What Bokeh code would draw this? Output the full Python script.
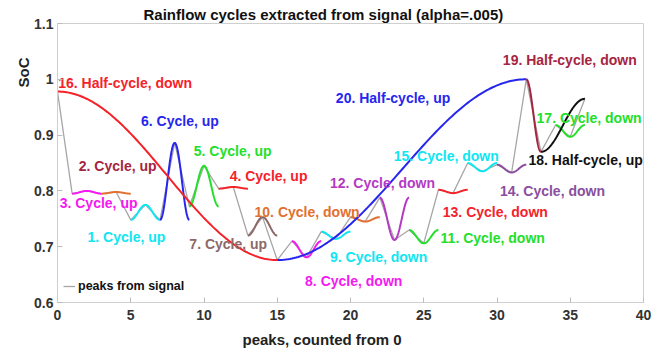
import numpy as np
from bokeh.plotting import figure
from bokeh.models import (ColumnDataSource, FixedTicker, Title, Legend, LegendItem,
                          Range1d)
from bokeh.core.properties import value
from bokeh.embed import file_html
from bokeh.resources import INLINE

# Turning points (peaks and valleys) of the SoC signal, counted from 0
peak_index = list(range(37))
peak_soc = [0.978, 0.795, 0.800, 0.795, 0.798, 0.748, 0.775, 0.748, 0.886, 0.772,
            0.845, 0.804, 0.807, 0.720, 0.753, 0.676, 0.710, 0.681, 0.727, 0.714,
            0.753, 0.745, 0.788, 0.712, 0.730, 0.706, 0.802, 0.796, 0.850, 0.835,
            0.847, 0.833, 1.000, 0.870, 0.918, 0.897, 0.965]

# Full cycles: start peak -> next peak -> back to the start level
cycle_number = [1, 2, 3, 4, 5, 6, 7, 8, 9, 10, 11, 12, 13, 14, 15, 17]
cycle_start = [5, 3, 1, 11, 9, 7, 13, 16, 18, 20, 24, 22, 26, 30, 28, 34]

# Half cycles: first and last peak
half_number = [16, 18, 19, 20]
half_from = [0, 33, 32, 15]
half_to = [15, 36, 33, 32]

x_ticks = [0, 5, 10, 15, 20, 25, 30, 35, 40]
y_ticks = [0.6, 0.7, 0.8, 0.9, 1.0, 1.1]
y_tick_labels = ["0.6", "0.7", "0.8", "0.9", "1", "1.1"]

FONT = "Liberation Sans"

CYAN, MAGENTA, RED, GREEN, BLUE = "#10E6F2", "#F518F0", "#F5222A", "#22E02A", "#2626EE"
MAROON, ORANGE, ROSY = "#A5253F", "#E2702E", "#8E6868"
PURPLE_A, PURPLE_B, BLACK = "#B43AC4", "#8A4E9E", "#111111"

line_color = {1: CYAN, 2: ORANGE, 3: MAGENTA, 4: RED, 5: GREEN, 6: BLUE, 7: ROSY,
              8: MAGENTA, 9: CYAN, 10: ORANGE, 11: GREEN, 12: PURPLE_A, 13: RED,
              14: PURPLE_B, 15: CYAN, 16: RED, 17: GREEN, 18: BLACK, 19: MAROON,
              20: BLUE}
label_color = dict(line_color)
label_color[2] = MAROON

# label anchor (left, middle) in data units
label_pos = {16: (0.05, 0.993), 6: (5.7, 0.926), 2: (1.45, 0.844), 5: (9.3, 0.872),
             4: (11.75, 0.826), 3: (0.15, 0.779), 1: (2.05, 0.718), 10: (13.45, 0.763),
             7: (9.0, 0.704), 12: (18.6, 0.815), 15: (22.95, 0.862), 13: (26.3, 0.763),
             14: (30.2, 0.799), 18: (32.15, 0.856), 11: (26.15, 0.716), 9: (18.6, 0.681),
             8: (16.9, 0.638), 20: (19.0, 0.966), 19: (30.4, 1.034), 17: (32.7, 0.931)}


def wave(x0, x1, y0, y1, n=40):
    t = np.linspace(0.0, 1.0, n)
    return x0 + (x1 - x0) * t, y0 + (y1 - y0) * (1 - np.cos(np.pi * t)) / 2


p = figure(width=665, height=358, output_backend="svg", toolbar_location=None,
           x_range=Range1d(0, 40), y_range=Range1d(0.6, 1.1),
           min_border_left=57, min_border_right=22, min_border_top=23,
           min_border_bottom=56)
p.grid.visible = False
p.outline_line_color = "#CFCFCF"
p.background_fill_color = "white"

for ax in (p.xaxis[0], p.yaxis[0]):
    ax.axis_line_color = "#CFCFCF"
    ax.major_tick_line_color = "#BDBDBD"
    ax.major_tick_in = 5
    ax.major_tick_out = 0
    ax.minor_tick_line_color = None
    ax.major_label_text_font = FONT
    ax.major_label_text_font_style = "bold"
    ax.major_label_text_font_size = "14px"
    ax.major_label_text_color = "#333333"
p.xaxis.ticker = FixedTicker(ticks=x_ticks)
p.yaxis.ticker = FixedTicker(ticks=y_ticks)
p.yaxis.major_label_overrides = {t: s for t, s in zip(y_ticks, y_tick_labels)}
p.xaxis.major_label_standoff = 7
p.yaxis.major_label_standoff = 4

# title and axis titles
p.title.text = "Rainflow cycles extracted from signal (alpha=.005)"
p.title.align = "left"
p.title.offset = 86
p.title.standoff = 2
p.title.text_font = FONT
p.title.text_font_style = "bold"
p.title.text_font_size = "15px"
p.title.text_color = "#111111"

p.add_layout(Title(text="peaks, counted from 0", align="left", offset=185, standoff=12,
                   text_font=FONT, text_font_style="bold", text_font_size="15px",
                   text_color="#222222"), "below")
p.add_layout(Title(text="SoC", align="right", offset=34, standoff=0,
                   text_font=FONT, text_font_style="bold", text_font_size="15px",
                   text_color="#222222"), "left")

# the signal's turning points
peaks_r = p.line(peak_index, peak_soc, line_color="#A6A6A6", line_width=1.3)

# extracted cycles, drawn as cosine swings between turning points
curves = {}
for n, i in zip(cycle_number, cycle_start):
    xa, ya = wave(i, i + 1, peak_soc[i], peak_soc[i + 1])
    xb, yb = wave(i + 1, i + 2, peak_soc[i + 1], peak_soc[i])
    curves[n] = (np.concatenate([xa, xb]), np.concatenate([ya, yb]),
                 "Cycle", peak_soc[i + 1] > peak_soc[i])
for n, a, b in zip(half_number, half_from, half_to):
    xs, ys = wave(a, b, peak_soc[a], peak_soc[b], n=120)
    curves[n] = (xs, ys, "Half-cycle", peak_soc[b] > peak_soc[a])

lx, ly, lt, lc = [], [], [], []
for n in sorted(curves):
    xs, ys, kind, up = curves[n]
    p.line(xs, ys, line_color=line_color[n], line_width=2)
    lx.append(label_pos[n][0])
    ly.append(label_pos[n][1])
    lt.append(f"{n}. {kind}, {'up' if up else 'down'}")
    lc.append(label_color[n])

p.text(x="x", y="y", text="t", text_color="c",
       source=ColumnDataSource(dict(x=lx, y=ly, t=lt, c=lc)),
       text_font=value(FONT), text_font_style="bold", text_font_size="14px",
       text_align="left", text_baseline="middle")

legend = Legend(items=[LegendItem(label="peaks from signal", renderers=[peaks_r])],
                location=(0, 0), margin=0, padding=6, glyph_width=12, glyph_height=20,
                label_height=20, label_standoff=3, background_fill_alpha=0,
                border_line_alpha=0, label_text_font=FONT, label_text_font_style="bold",
                label_text_font_size="12.5px", label_text_color="#111111")
p.add_layout(legend)

open("out.html", "w").write(file_html(p, INLINE))
